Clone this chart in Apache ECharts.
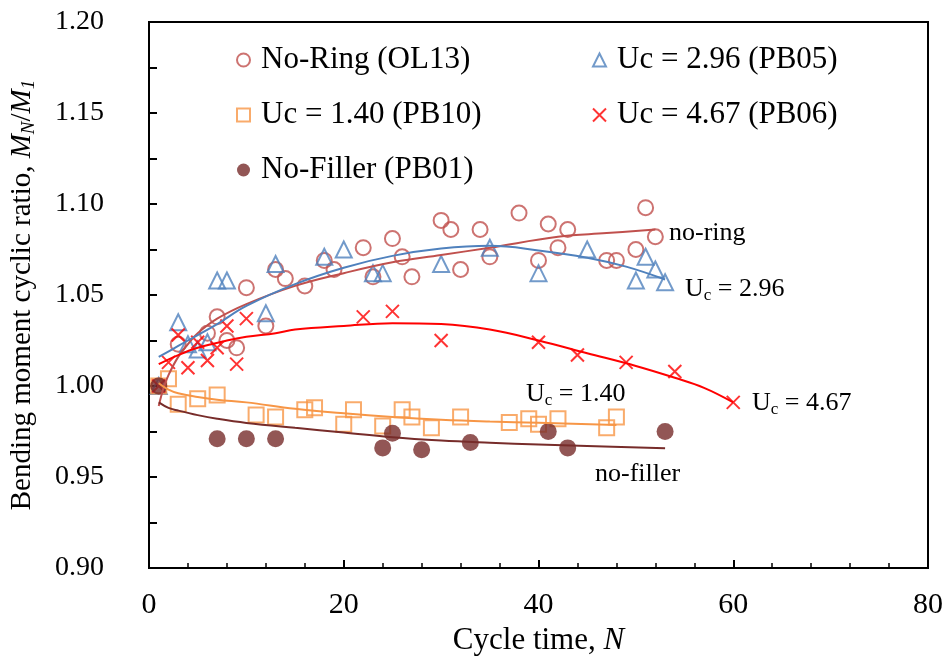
<!DOCTYPE html>
<html>
<head>
<meta charset="utf-8">
<script src="https://cdn.jsdelivr.net/npm/echarts@6/dist/echarts.min.js"></script>
<style>
  html, body { margin: 0; padding: 0; background: #fff; }
  #chart { width: 950px; height: 661px; }
</style>
</head>
<body>
<div id="chart"></div>
<script>
// Cycle number N and bending moment ratio M_N/M_1 for each specimen
const noRingN = [1, 3, 6, 7, 8, 9, 10, 12, 13, 14, 16, 18, 19, 22, 23, 25, 26, 27, 30, 31, 32, 34, 35, 38, 40, 41, 42, 43, 47, 48, 50, 51, 52];
const noRingM = [1.000, 1.023, 1.029, 1.038, 1.025, 1.021, 1.054, 1.033, 1.064, 1.059, 1.055, 1.069, 1.064, 1.076, 1.060, 1.081, 1.071, 1.060, 1.091, 1.086, 1.064, 1.086, 1.071, 1.095, 1.069, 1.089, 1.076, 1.086, 1.069, 1.069, 1.075, 1.098, 1.082];

const uc296N = [1, 3, 4, 5, 6, 7, 8, 12, 13, 18, 20, 23, 24, 30, 35, 40, 45, 50, 51, 52, 53];
const uc296M = [1.000, 1.035, 1.023, 1.020, 1.024, 1.058, 1.058, 1.040, 1.067, 1.071, 1.075, 1.062, 1.062, 1.067, 1.076, 1.062, 1.075, 1.058, 1.071, 1.064, 1.057];

const uc140N = [1, 2, 3, 5, 7, 11, 13, 16, 17, 20, 21, 24, 26, 27, 29, 32, 37, 39, 40, 42, 47, 48];
const uc140M = [1.000, 1.004, 0.990, 0.993, 0.995, 0.984, 0.983, 0.987, 0.988, 0.979, 0.987, 0.978, 0.987, 0.983, 0.977, 0.983, 0.980, 0.982, 0.979, 0.982, 0.977, 0.983];

const uc467N = [1, 2, 3, 4, 5, 6, 7, 8, 9, 10, 22, 25, 30, 40, 44, 49, 54, 60];
const uc467M = [1.000, 1.013, 1.028, 1.010, 1.024, 1.014, 1.021, 1.033, 1.012, 1.037, 1.038, 1.041, 1.025, 1.024, 1.017, 1.013, 1.008, 0.991];

const noFillerN = [1, 7, 10, 13, 24, 25, 28, 33, 41, 43, 53];
const noFillerM = [1.000, 0.971, 0.971, 0.971, 0.966, 0.974, 0.965, 0.969, 0.975, 0.966, 0.975];

// Trend curves through each data set
const noRingFitN = [1, 1.5, 2, 3, 4, 5, 7, 10, 15, 20, 25, 30, 35, 42, 47, 52];
const noRingFitM = [0.989, 0.999, 1.006, 1.016, 1.023, 1.029, 1.037, 1.045, 1.055, 1.062, 1.068, 1.072, 1.076, 1.082, 1.084, 1.086];

const uc296FitN = [1, 3, 5, 7, 10, 15, 20, 25, 30, 35, 40, 45, 49, 53];
const uc296FitM = [1.016, 1.022, 1.028, 1.034, 1.044, 1.056, 1.065, 1.0715, 1.0755, 1.077, 1.0745, 1.0705, 1.0656, 1.0585];

const uc140FitN = [1, 2, 3, 5, 7, 10, 15, 20, 25, 30, 35, 40, 48];
const uc140FitM = [1.0015, 0.998, 0.996, 0.994, 0.9925, 0.991, 0.9875, 0.985, 0.983, 0.9815, 0.9805, 0.9798, 0.9786];

const uc467FitN = [1, 3, 5, 8, 10, 13, 15, 20, 25, 30, 35, 40, 45, 50, 54, 57, 60];
const uc467FitM = [1.012, 1.017, 1.021, 1.025, 1.027, 1.029, 1.031, 1.033, 1.0345, 1.034, 1.031, 1.025, 1.018, 1.011, 1.0045, 0.999, 0.991];

const noFillerFitN = [1, 2, 3, 5, 7, 10, 15, 20, 25, 30, 35, 40, 45, 53];
const noFillerFitM = [0.991, 0.988, 0.9865, 0.984, 0.982, 0.9797, 0.977, 0.9745, 0.9718, 0.970, 0.9688, 0.9678, 0.967, 0.9658];

// Axis ranges and tick steps
const xTicks = { min: 0, max: 80, step: 20 };
const yTicks = { min: 0.90, max: 1.20, step: 0.05 };

const names = ['No-Ring (OL13)', 'Uc = 2.96 (PB05)', 'Uc = 1.40 (PB10)', 'Uc = 4.67 (PB06)', 'No-Filler (PB01)'];

const zip = (xs, ys) => xs.map((x, i) => [x, ys[i]]);

const FONT = '"Liberation Serif", "Times New Roman", serif';
const C_RING = '#C0504D';
const C_296 = '#4F81BD';
const C_140 = '#F79646';
const C_467 = '#FF0000';
const C_FILL = '#772C2A';
const CROSS = 'path://M0,0L10,10M10,0L0,10';

function scatter(name, data, symbol, size, color, filled) {
  return {
    name, type: 'scatter', data, symbol, symbolSize: size, z: 3,
    itemStyle: filled
      ? { color: color, borderWidth: 0 }
      : { color: 'rgba(0,0,0,0)', borderColor: color, borderWidth: 2 }
  };
}
function fit(data, color) {
  return {
    type: 'line', data, smooth: 0.4, symbol: 'none', z: 4, silent: true,
    lineStyle: { color, width: 2 }
  };
}

const chart = echarts.init(document.getElementById('chart'));

const sub = { fontSize: 17, lineHeight: 12, verticalAlign: 'bottom', fontFamily: FONT, fill: '#000' };
const main = { fontSize: 26, lineHeight: 30, fontFamily: FONT, fill: '#000' };

function note(left, top, text) {
  return {
    type: 'text', left, top, z: 10,
    style: { text, fontFamily: FONT, fontSize: 26, fill: '#000', rich: { u: main, s: sub } }
  };
}

const legendText = { fontFamily: FONT, fontSize: 31, lineHeight: 34, color: '#000', padding: [0, 0, 0, 6] };

chart.setOption({
  animation: false,
  backgroundColor: '#fff',
  grid: {
    left: 149, right: 22, top: 22, bottom: 93, containLabel: false, outerBoundsMode: 'none',
    show: true, borderColor: '#000', borderWidth: 2, backgroundColor: 'transparent'
  },
  xAxis: {
    type: 'value', min: xTicks.min, max: xTicks.max, interval: xTicks.step,
    name: '{t|Cycle time, }{i|N}', nameLocation: 'middle', nameGap: 44,
    nameTextStyle: { rich: { t: { fontFamily: FONT, fontSize: 31, color: '#000' }, i: { fontFamily: FONT, fontSize: 31, fontStyle: 'italic', color: '#000' } } },
    axisLine: { show: true, lineStyle: { color: '#000', width: 2 } },
    axisTick: { show: true, inside: true, length: 8, lineStyle: { color: '#000', width: 2 } },
    minorTick: { show: true, splitNumber: 5, length: 5, lineStyle: { color: '#000', width: 1.5 } },
    splitLine: { show: false },
    axisLabel: { fontFamily: FONT, fontSize: 30, color: '#000', margin: 22 }
  },
  yAxis: {
    type: 'value', min: yTicks.min, max: yTicks.max, interval: yTicks.step,
    name: '{t|Bending moment cyclic ratio, }{i|M}{s|N}{t|/}{i|M}{s|1}',
    nameLocation: 'middle', nameRotate: 90, nameGap: 111,
    nameTextStyle: {
      rich: {
        t: { fontFamily: FONT, fontSize: 29, lineHeight: 32, color: '#000' },
        i: { fontFamily: FONT, fontSize: 29, lineHeight: 32, fontStyle: 'italic', color: '#000' },
        s: { fontFamily: FONT, fontSize: 19, lineHeight: 13, verticalAlign: 'bottom', fontStyle: 'italic', color: '#000' }
      }
    },
    axisLine: { show: true, lineStyle: { color: '#000', width: 2 } },
    axisTick: { show: true, inside: true, length: 8, lineStyle: { color: '#000', width: 2 } },
    minorTick: { show: true, splitNumber: 2, length: 8, lineStyle: { color: '#000', width: 2 } },
    splitLine: { show: false },
    axisLabel: { fontFamily: FONT, fontSize: 28, color: '#000', margin: 45, formatter: v => v.toFixed(2) }
  },
  legend: [
    {
      data: [names[0], names[2], names[4]], orient: 'vertical', left: 231, top: 38,
      itemWidth: 13, itemHeight: 13, itemGap: 21, textStyle: legendText
    },
    {
      data: [names[1], names[3]], orient: 'vertical', left: 587, top: 38,
      itemWidth: 13, itemHeight: 13, itemGap: 21, textStyle: legendText
    }
  ],
  graphic: [
    note(669, 220, 'no-ring'),
    note(685, 276, '{u|U}{s|c}{u| = 2.96}'),
    note(526, 381, '{u|U}{s|c}{u| = 1.40}'),
    note(752, 390, '{u|U}{s|c}{u| = 4.67}'),
    note(595, 461, 'no-filler')
  ],
  series: [
    scatter(names[0], zip(noRingN, noRingM), 'circle', 15, C_RING, false),
    scatter(names[1], zip(uc296N, uc296M), 'triangle', 16, C_296, false),
    scatter(names[2], zip(uc140N, uc140M), 'rect', 15, C_140, false),
    scatter(names[3], zip(uc467N, uc467M), CROSS, 13, C_467, false),
    scatter(names[4], zip(noFillerN, noFillerM), 'circle', 17, C_FILL, true),
    fit(zip(noRingFitN, noRingFitM), C_RING),
    fit(zip(uc296FitN, uc296FitM), C_296),
    fit(zip(uc140FitN, uc140FitM), C_140),
    fit(zip(uc467FitN, uc467FitM), C_467),
    fit(zip(noFillerFitN, noFillerFitM), C_FILL)
  ]
});
</script>
</body>
</html>
